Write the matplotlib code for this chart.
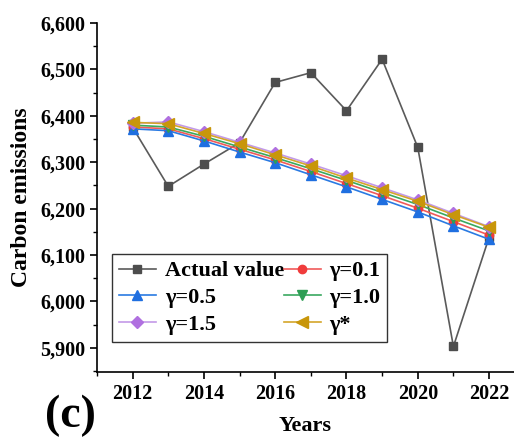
import matplotlib
matplotlib.use("Agg")
import matplotlib.pyplot as plt
from matplotlib.ticker import FuncFormatter, MultipleLocator

plt.rcParams['font.family'] = ['Liberation Serif', 'DejaVu Serif']
plt.rcParams['font.weight'] = 'bold'

years = [2012, 2013, 2014, 2015, 2016, 2017, 2018, 2019, 2020, 2021, 2022]
actual = [6375, 6248, 6296, 6342, 6472, 6493, 6411, 6522, 6332, 5903, 6138]
gamma_01 = [6376, 6372, 6351, 6328, 6305, 6280, 6254, 6228, 6201, 6172, 6143]
gamma_05 = [6372, 6368, 6346, 6322, 6299, 6273, 6247, 6220, 6193, 6163, 6134]
gamma_10 = [6380, 6376, 6356, 6333, 6310, 6286, 6261, 6235, 6209, 6180, 6152]
gamma_15 = [6384, 6387, 6366, 6343, 6320, 6296, 6271, 6245, 6219, 6190, 6161]
gamma_opt = [6386, 6383, 6362, 6340, 6316, 6292, 6266, 6241, 6216, 6187, 6160]

labels = ['Actual value', 'γ=0.1', 'γ=0.5', 'γ=1.0', 'γ=1.5', 'γ*']

fig = plt.figure(figsize=(5.14, 4.37), dpi=100)
ax = fig.add_axes([0.1887, 0.1487, 0.8113, 0.7986])

h_act, = ax.plot(years, actual, color='#5a5a5a', lw=1.2, marker='s', ms=6,
                 mfc='#4d4d4d', mec='#4d4d4d', label=labels[0])
h01, = ax.plot(years, gamma_01, color='#f05a5a', lw=1.2, marker='o', ms=6,
               mfc='#f03c3c', mec='#f03c3c', label=labels[1])
h05, = ax.plot(years, gamma_05, color='#2a7ae2', lw=1.2, marker='^', ms=7.5,
               mfc='#1f6fe0', mec='#1f6fe0', label=labels[2])
h10, = ax.plot(years, gamma_10, color='#3aa860', lw=1.2, marker='v', ms=7.5,
               mfc='#2e9e55', mec='#2e9e55', label=labels[3])
h15, = ax.plot(years, gamma_15, color='#c39ae8', lw=1.2, marker='D', ms=6,
               mfc='#b070e0', mec='#b070e0', label=labels[4])
hopt, = ax.plot(years, gamma_opt, color='#d4a52a', lw=1.2, marker='<', ms=8,
                mfc='#c8960a', mec='#c8960a', label=labels[5])

ax.set_xlim(2011.0, 2022.7)
ax.set_ylim(5848, 6600)
ax.xaxis.set_major_locator(MultipleLocator(2))
ax.xaxis.set_minor_locator(MultipleLocator(1))
ax.yaxis.set_major_locator(MultipleLocator(100))
ax.yaxis.set_minor_locator(MultipleLocator(50))
ax.yaxis.set_major_formatter(FuncFormatter(lambda v, p: f'{int(v):,}'))

for s in ('top', 'right'):
    ax.spines[s].set_visible(False)
for s in ('left', 'bottom'):
    ax.spines[s].set_linewidth(1.2)
ax.tick_params(which='major', direction='out', length=5, width=1.2,
               labelsize=14.5)
ax.tick_params(which='minor', direction='out', length=3, width=1.0)
for t in ax.get_xticklabels() + ax.get_yticklabels():
    t.set_fontweight('bold')

ax.set_xlabel('Years', fontsize=16, fontweight='bold', labelpad=9)
ax.set_ylabel('Carbon emissions', fontsize=17, fontweight='bold', labelpad=6)

handles = [h_act, h05, h15, h01, h10, hopt]
leg = ax.legend(handles, [h.get_label() for h in handles], ncol=2,
                loc='upper left', bbox_to_anchor=(0.037, 0.338),
                prop={'family': 'Liberation Serif', 'weight': 'bold', 'size': 16},
                frameon=True, fancybox=False, edgecolor='black',
                handlelength=1.65, handletextpad=0.4, columnspacing=0.0,
                labelspacing=0.28, borderpad=0.3, borderaxespad=0)
leg.get_frame().set_linewidth(1.0)

fig.text(0.088, 0.0, '(c)', fontsize=33, fontweight='bold', ha='left', va='bottom')

fig.savefig('out.png', dpi=100)
